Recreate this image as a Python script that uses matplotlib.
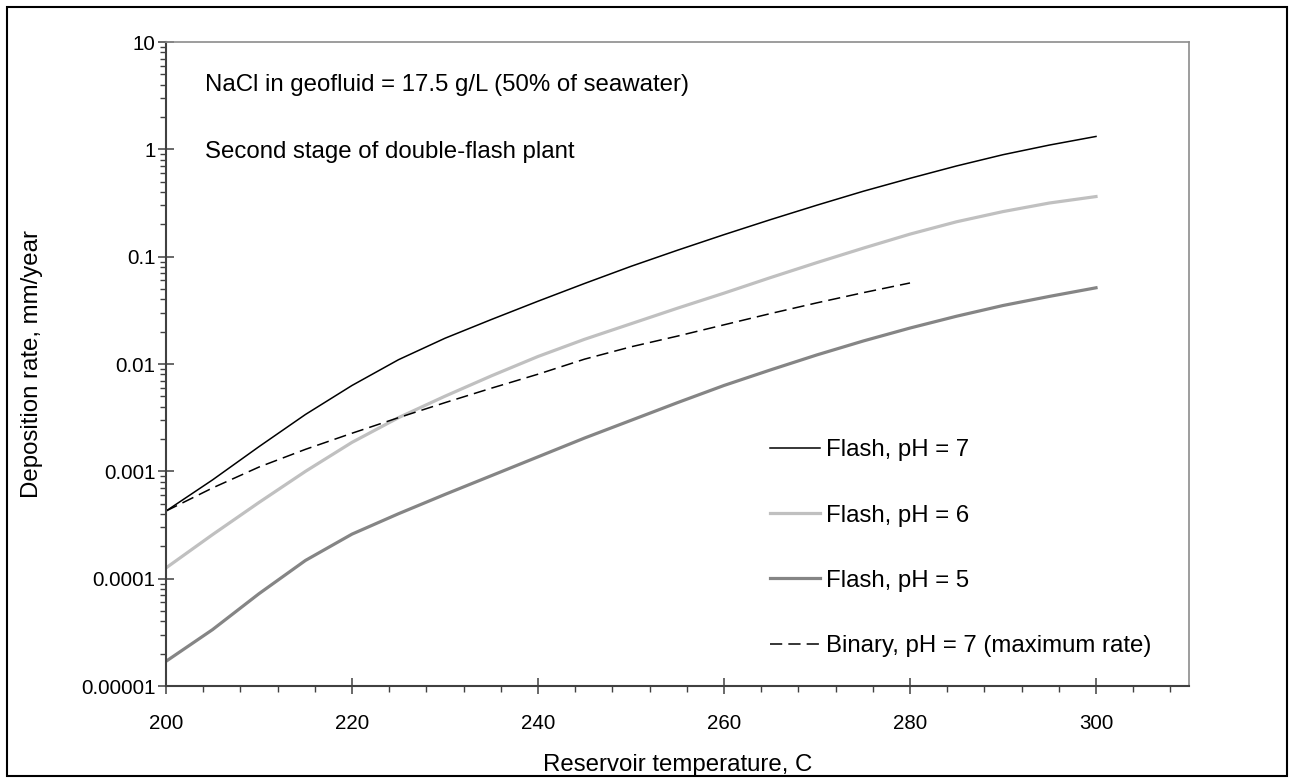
import numpy as np
import matplotlib
matplotlib.use('Agg')
import matplotlib.pyplot as plt
from matplotlib.patches import Rectangle
from matplotlib.ticker import FixedLocator, FixedFormatter, LogLocator, MultipleLocator, NullFormatter

# Reservoir temperature (C) and log10 of deposition rate (mm/year)
temp_flash = [200, 205, 210, 215, 220, 225, 230, 235, 240, 245, 250, 255,
              260, 265, 270, 275, 280, 285, 290, 295, 300]
log_ph7 = [-3.37, -3.08, -2.77, -2.47, -2.20, -1.96, -1.76, -1.585, -1.415, -1.25, -1.09,
           -0.94, -0.795, -0.655, -0.52, -0.39, -0.27, -0.155, -0.05, 0.04, 0.12]
log_ph6 = [-3.90, -3.59, -3.29, -3.00, -2.73, -2.50, -2.30, -2.11, -1.93, -1.77, -1.625,
           -1.48, -1.34, -1.195, -1.055, -0.92, -0.79, -0.675, -0.58, -0.50, -0.44]
log_ph5 = [-4.77, -4.475, -4.14, -3.83, -3.585, -3.395, -3.215, -3.04, -2.865, -2.69, -2.525,
           -2.36, -2.20, -2.055, -1.915, -1.785, -1.665, -1.555, -1.455, -1.37, -1.29]

temp_binary = [200, 205, 210, 215, 220, 225, 230, 235, 240, 245, 250, 255,
               260, 265, 270, 275, 280]
log_binary = [-3.37, -3.155, -2.96, -2.795, -2.645, -2.50, -2.36, -2.225, -2.095, -1.955, -1.84,
              -1.74, -1.635, -1.53, -1.43, -1.335, -1.245]

y_ticks = [1e-5, 1e-4, 1e-3, 1e-2, 1e-1, 1, 10]
y_tick_labels = ['0.00001', '0.0001', '0.001', '0.01', '0.1', '1', '10']
x_ticks = [200, 220, 240, 260, 280, 300]

TEXT_SIZE = 17.3
TICK_SIZE = 14.8

plt.rcParams['font.family'] = ['Liberation Sans', 'DejaVu Sans']
plt.rcParams['font.size'] = TEXT_SIZE

fig = plt.figure(figsize=(12.92, 7.83), dpi=100)
ax = fig.add_axes([166 / 1292, 1 - 686 / 783, 1023 / 1292, 644 / 783])

ax.plot(temp_flash, 10 ** np.array(log_ph7), color='black', lw=1.1, label='Flash, pH = 7')
ax.plot(temp_flash, 10 ** np.array(log_ph6), color='#c0c0c0', lw=2.3, label='Flash, pH = 6')
ax.plot(temp_flash, 10 ** np.array(log_ph5), color='#858585', lw=2.3, label='Flash, pH = 5')
ax.plot(temp_binary, 10 ** np.array(log_binary), color='black', lw=1.1, dashes=(8, 4),
        label='Binary, pH = 7 (maximum rate)')

ax.set_yscale('log')
ax.set_xlim(200, 310)
ax.set_ylim(1e-5, 10)

ax.yaxis.set_major_locator(FixedLocator(y_ticks))
ax.yaxis.set_major_formatter(FixedFormatter(y_tick_labels))
ax.yaxis.set_minor_locator(LogLocator(base=10, subs=np.arange(2, 10)))
ax.yaxis.set_minor_formatter(NullFormatter())
ax.xaxis.set_major_locator(FixedLocator(x_ticks))
ax.xaxis.set_minor_locator(MultipleLocator(4))

axis_col = '#404040'
for side in ('left', 'bottom'):
    ax.spines[side].set_color(axis_col)
    ax.spines[side].set_linewidth(1.5)
for side in ('top', 'right'):
    ax.spines[side].set_color('#8c8c8c')
    ax.spines[side].set_linewidth(1.2)

ax.tick_params(axis='y', which='major', direction='inout', length=12, width=1.1,
               color=axis_col, pad=1.5, labelsize=TICK_SIZE)
ax.tick_params(axis='y', which='minor', direction='out', length=4.5, width=1.0, color=axis_col)
ax.tick_params(axis='x', which='major', direction='inout', length=11, width=1.1,
               color=axis_col, pad=15, labelsize=TICK_SIZE)
ax.tick_params(axis='x', which='minor', direction='out', length=4, width=1.0, color=axis_col)

ax.set_xlabel('Reservoir temperature, C')
ax.set_ylabel('Deposition rate, mm/year')
ax.xaxis.set_label_coords(0.5, -0.105)
ax.yaxis.set_label_coords(-0.120, 0.5)

ax.text(0.038, 0.933, 'NaCl in geofluid = 17.5 g/L (50% of seawater)',
        transform=ax.transAxes, va='center', ha='left')
ax.text(0.038, 0.829, 'Second stage of double-flash plant',
        transform=ax.transAxes, va='center', ha='left')

ax.legend(loc='upper left', bbox_to_anchor=(0.590, 0.383), frameon=False,
          handlelength=2.08, handletextpad=0.25, labelspacing=1.80,
          borderpad=0, borderaxespad=0, fontsize=TEXT_SIZE)

fig.patches.append(Rectangle((7 / 1292, 7 / 783), 1280 / 1292, 769 / 783,
                             transform=fig.transFigure, fill=False,
                             edgecolor='black', lw=1.5))

fig.savefig('out.png', dpi=100)
